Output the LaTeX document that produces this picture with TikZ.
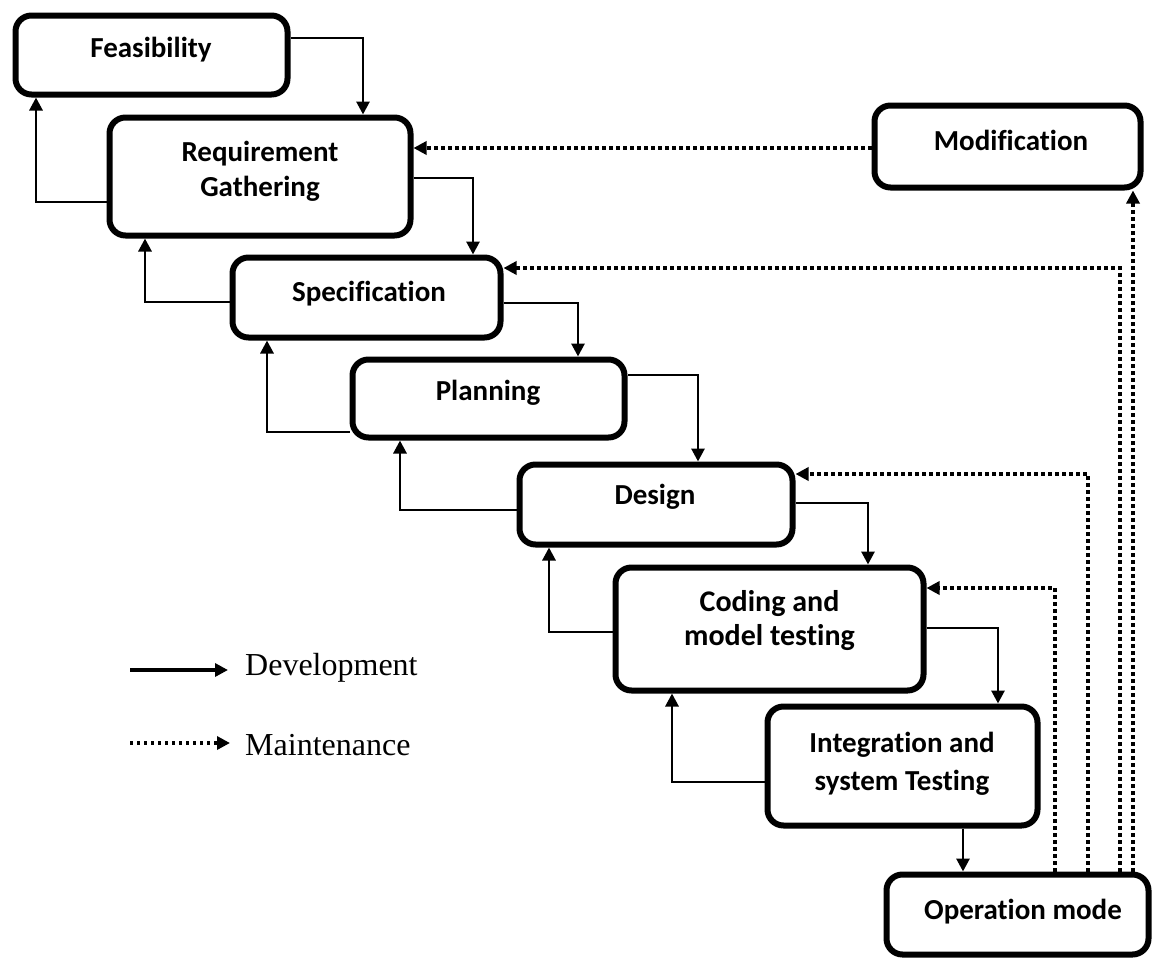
\documentclass[tikz,border=0pt]{standalone}
\usepackage{fontspec}
\setmainfont{Liberation Serif}
\newfontfamily\boxfont[Ligatures=NoCommon]{Carlito}
\usetikzlibrary{arrows.meta}
\begin{document}
\begin{tikzpicture}[x=1pt,y=-1pt,
  stage/.style={draw=black,line width=6pt,rounded corners=16pt,fill=white,inner sep=0pt},
  stagetext/.style={font=\boxfont\bfseries\fontsize{29}{35}\selectfont,align=center,inner sep=0pt},
  dev/.style={line width=2.9pt,-{Triangle[length=13pt,width=13pt]}},
  mnt/.style={line width=3.4pt,dash pattern=on 3.4pt off 3.6pt,-{Triangle[length=13pt,width=13pt]}},
  legendtext/.style={font=\fontsize{32}{38}\selectfont,anchor=west,inner sep=0pt}]
\useasboundingbox[fill=white] (0,0) rectangle (1159,961);

% stage boxes
\node[stage,minimum width=272pt,minimum height=79pt]  (feas)  at (151.5,55)   {};
\node[stage,minimum width=301pt,minimum height=118pt] (req)   at (260,176.5)  {};
\node[stage,minimum width=268pt,minimum height=80pt]  (spec)  at (366.5,297.5){};
\node[stage,minimum width=272pt,minimum height=78pt]  (plan)  at (488.5,398.5){};
\node[stage,minimum width=273pt,minimum height=80pt]  (des)   at (656,504.5)  {};
\node[stage,minimum width=308pt,minimum height=123pt] (cod)   at (769.5,629)  {};
\node[stage,minimum width=270pt,minimum height=119pt] (integ) at (902.5,766)  {};
\node[stage,minimum width=262pt,minimum height=80pt]  (op)    at (1017.5,914.5){};
\node[stage,minimum width=266pt,minimum height=82pt]  (mod)   at (1007.5,146.5){};

% stage labels
\node[stagetext] (feasT)  at (151,50)    {Feasibility};
\node[stagetext] (reqT)   at (260,171)   {Requirement\\Gathering};
\node[stagetext] (specT)  at (369,294)   {Specification};
\node[stagetext] (planT)  at (488,393)   {Planning};
\node[stagetext] (desT)   at (655,497)   {Design};
\node[stagetext,font=\boxfont\bfseries\fontsize{30}{34}\selectfont] (codT) at (769.5,621) {Coding and\\model testing};
\node[stagetext,font=\boxfont\bfseries\fontsize{29}{38}\selectfont] (integT) at (902,764) {Integration and\\system Testing};
\node[stagetext] (opT)    at (1023,912)  {Operation mode};
\node[stagetext] (modT)   at (1011,140)  {Modification};

% development: forward steps
\draw[dev] ([yshift=17pt]feas.east)   -| ([xshift=103pt]req.north);
\draw[dev] ([yshift=-1.5pt]req.east)  -| ([xshift=106.5pt]spec.north);
\draw[dev] ([yshift=-5.5pt]spec.east) -| ([xshift=89.5pt]plan.north);
\draw[dev] ([yshift=23.5pt]plan.east) -| ([xshift=42pt]des.north);
\draw[dev] ([yshift=1.5pt]des.east)   -| ([xshift=98.5pt]cod.north);
\draw[dev] ([yshift=1pt]cod.east)     -| ([xshift=95.5pt]integ.north);
\draw[dev] ([xshift=60.5pt]integ.south) -- ([xshift=-54.5pt]op.north);

% development: feedback steps
\draw[dev] ([yshift=-25.5pt]req.west)  -| ([xshift=-115.5pt]feas.south);
\draw[dev] ([yshift=-4.5pt]spec.west)  -| ([xshift=-115pt]req.south);
\draw[dev] ([yshift=-33.5pt]plan.west) -| ([xshift=-99.5pt]spec.south);
\draw[dev] ([yshift=-5.5pt]des.west)   -| ([xshift=-88.5pt]plan.south);
\draw[dev] ([yshift=-3pt]cod.west)     -| ([xshift=-107pt]des.south);
\draw[dev] ([yshift=-16pt]integ.west)  -| ([xshift=-97.5pt]cod.south);

% maintenance paths
\draw[mnt] ([xshift=37.5pt]op.north)  |- ([yshift=41pt]cod.east);
\draw[mnt] ([xshift=70.5pt]op.north)  |- ([yshift=30.5pt]des.east);
\draw[mnt] ([xshift=102.5pt]op.north) |- ([yshift=29.5pt]spec.east);
\draw[mnt] ([xshift=115.5pt]op.north) -- ([xshift=125.5pt]mod.south);
\draw[mnt] ([yshift=-1.5pt]mod.west)  -- ([yshift=28.5pt]req.east);

% legend
\coordinate (devA) at (130,670);
\coordinate (devB) at (228,670);
\coordinate (mntA) at (130,743);
\coordinate (mntB) at (230,743);
\draw[dev,line width=3.4pt] (devA) -- (devB);
\draw[mnt] (mntA) -- (mntB);
\node[legendtext] (devT) at (245,668) {Development};
\node[legendtext] (mntT) at (245,745) {Maintenance};
\end{tikzpicture}
\end{document}
